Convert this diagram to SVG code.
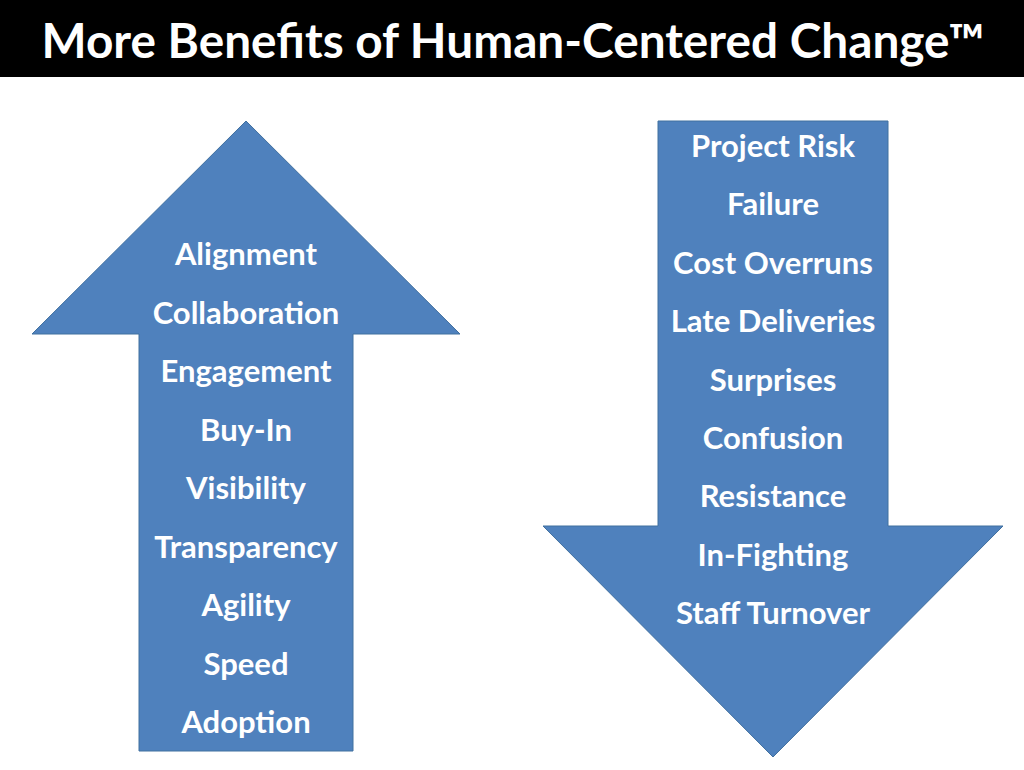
<svg xmlns="http://www.w3.org/2000/svg" width="1024" height="770" viewBox="0 0 1024 770">
<style>
.arrow{fill:#4F81BD;stroke:#41709F;stroke-width:1}
.item{font-family:Lato,"Open Sans","Liberation Sans",sans-serif;font-weight:bold;font-size:31px;fill:#FFFFFF;text-anchor:middle}
.title{font-family:Lato,"Open Sans","Liberation Sans",sans-serif;font-weight:bold;font-size:47px;fill:#FFFFFF;text-anchor:middle}
</style>
<rect x="0" y="0" width="1024" height="770" fill="#FFFFFF"/>
<g id="title">
<rect x="0" y="0" width="1024" height="77" fill="#000000"/>
<text class="title" x="513" y="58" textLength="943" lengthAdjust="spacingAndGlyphs">More Benefits of Human-Centered Change™</text>
</g>
<g id="up-arrow">
<polygon class="arrow" points="246,121 460,334 353,334 353,751 139,751 139,334 32,334"/>
<text class="item" x="246" y="265">Alignment</text>
<text class="item" x="246" y="323.5">Collaboration</text>
<text class="item" x="246" y="382">Engagement</text>
<text class="item" x="246" y="440.5">Buy-In</text>
<text class="item" x="246" y="499">Visibility</text>
<text class="item" x="246" y="557.5">Transparency</text>
<text class="item" x="246" y="616">Agility</text>
<text class="item" x="246" y="674.5">Speed</text>
<text class="item" x="246" y="733">Adoption</text>
</g>
<g id="down-arrow">
<polygon class="arrow" points="658,121 888,121 888,526 1003,526 773,757 543,526 658,526"/>
<text class="item" x="773" y="157">Project Risk</text>
<text class="item" x="773" y="215.4">Failure</text>
<text class="item" x="773" y="273.8">Cost Overruns</text>
<text class="item" x="773" y="332.1">Late Deliveries</text>
<text class="item" x="773" y="390.5">Surprises</text>
<text class="item" x="773" y="448.9">Confusion</text>
<text class="item" x="773" y="507.3">Resistance</text>
<text class="item" x="773" y="565.6">In-Fighting</text>
<text class="item" x="773" y="624">Staff Turnover</text>
</g>
<g id="connectors"></g>
</svg>
